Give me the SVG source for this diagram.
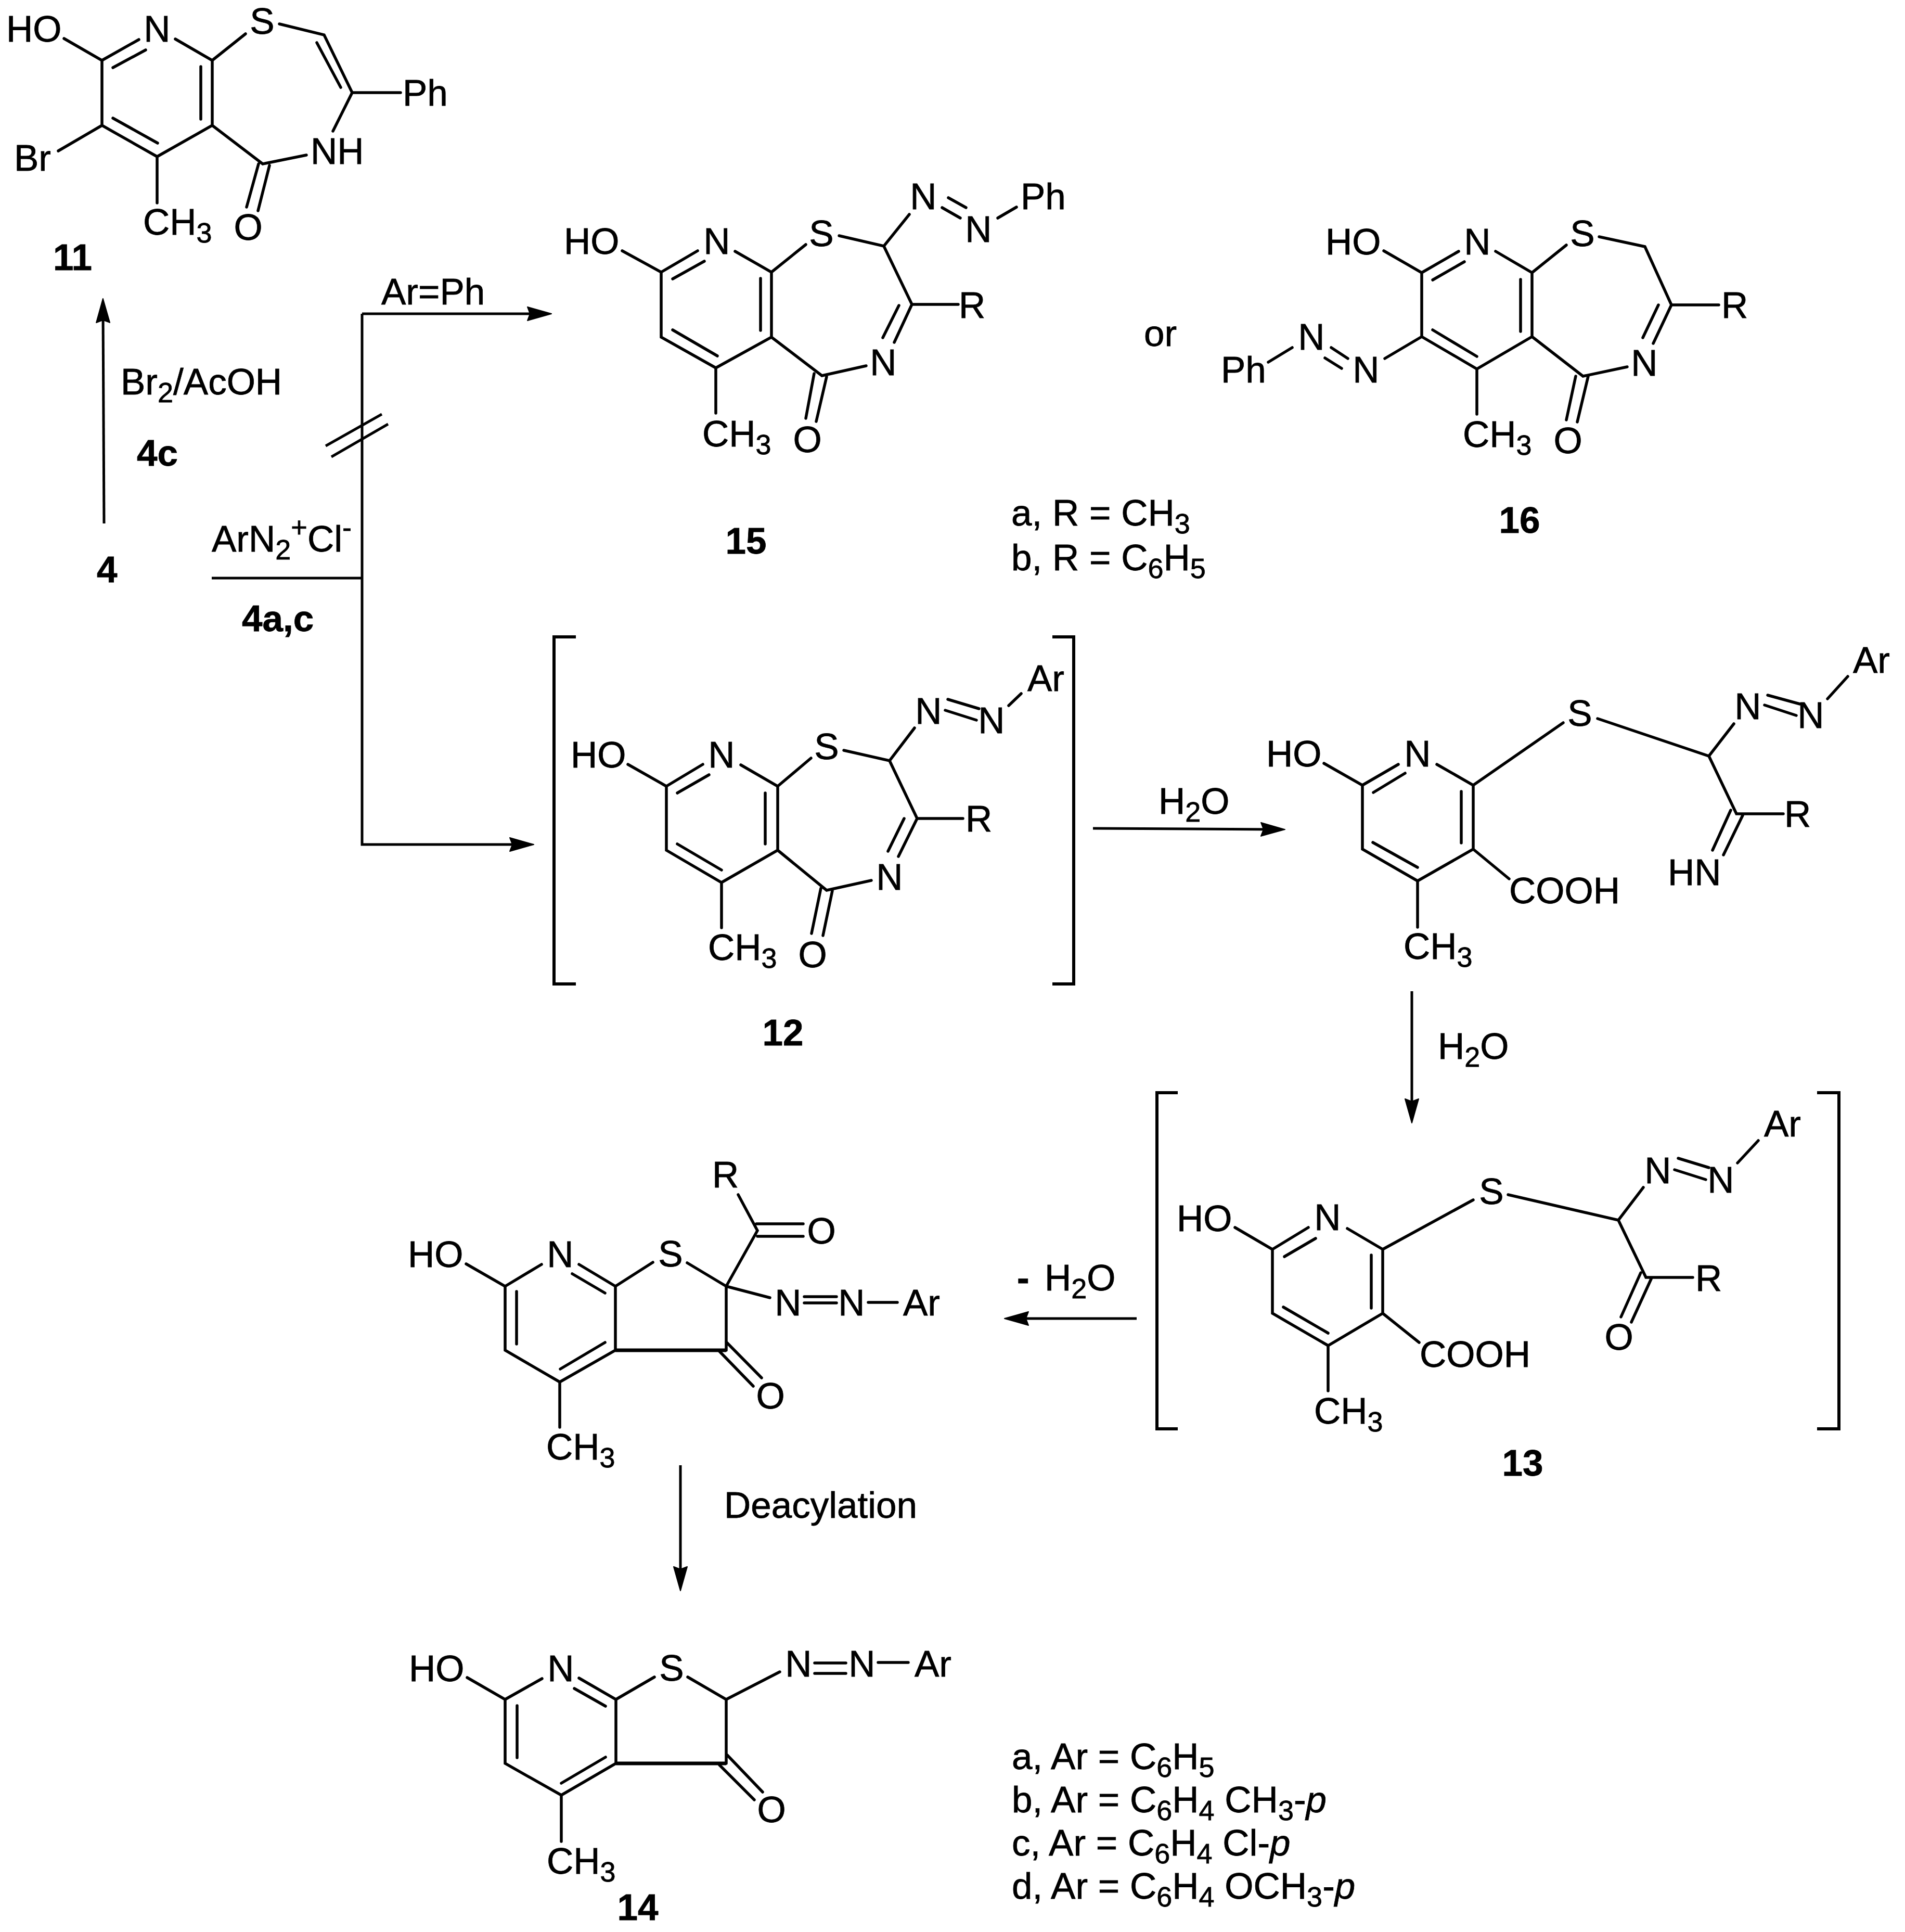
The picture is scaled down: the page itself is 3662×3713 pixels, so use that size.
<svg xmlns="http://www.w3.org/2000/svg" width="3662" height="3713" viewBox="0 0 3662 3713">
<style>
text{font-family:"Liberation Sans",Arial,sans-serif;font-size:71px;fill:#000;stroke:#000;stroke-width:.8}
.m{text-anchor:middle}
.l{font-weight:bold}
.s{font-size:54px}
.i{font-style:italic}
.b{fill:none;stroke:#000;stroke-width:5.5;stroke-linecap:round;stroke-linejoin:miter}
.h{fill:none;stroke:#000;stroke-width:7}
.c{fill:none;stroke:#000;stroke-width:5}
.k{fill:none;stroke:#000;stroke-width:6;stroke-linejoin:miter}
</style>
<defs>
<marker id="ah" markerUnits="userSpaceOnUse" markerWidth="60" markerHeight="40" viewBox="0 0 60 40" refX="23" refY="20" orient="auto"><path d="M1,7 L47,20 L1,33 L6,20 Z" fill="#000" stroke="#000" stroke-width="2" stroke-linejoin="round"/></marker>
</defs>
<rect width="3662" height="3713" fill="#fff"/>
<g id="connectors">
<path class="c" d="M200,1006 L198,598" marker-end="url(#ah)"/>
<path class="c" d="M407,1111 L696,1111"/>
<path class="c" d="M696,603 L696,1623 L1002,1623" marker-end="url(#ah)"/>
<path class="c" d="M696,603 L1036,603" marker-end="url(#ah)"/>
<path class="c" d="M626,857 L734,796 M637,878 L746,815"/>
<path class="c" d="M2101,1592 L2446,1594" marker-end="url(#ah)"/>
<path class="c" d="M2714,1905 L2714,2134" marker-end="url(#ah)"/>
<path class="c" d="M2185,2534 L1955,2534" marker-end="url(#ah)"/>
<path class="c" d="M1308,2816 L1308,3033" marker-end="url(#ah)"/>
</g>
<g id="reagents">
<text x="733" y="585">Ar=Ph</text>
<text x="232" y="758">Br<tspan class="s" dy="15">2</tspan><tspan dy="-15">/AcOH</tspan></text>
<text x="263" y="895" class="l">4c</text>
<text x="186" y="1119" class="l">4</text>
<text x="407" y="1060">ArN<tspan class="s" dy="15">2</tspan><tspan class="s" dy="-43">+</tspan><tspan dy="28">Cl</tspan><tspan class="s" dy="-28">-</tspan></text>
<text x="465" y="1213" class="l">4a,c</text>
<text x="2227" y="1564">H<tspan class="s" dy="15">2</tspan><tspan dy="-15">O</tspan></text>
<text x="2764" y="2035">H<tspan class="s" dy="15">2</tspan><tspan dy="-15">O</tspan></text>
<text x="1955" y="2480" class="l">-</text>
<text x="2008" y="2480">H<tspan class="s" dy="15">2</tspan><tspan dy="-15">O</tspan></text>
<text x="1392" y="2917">Deacylation</text>
<text x="2199" y="665">or</text>
</g>
<g id="node-11">
<path class="b" d="M123,74 L196,116 L196,241 L302,301 L408,241 L408,116 L337,75 M196,116 L267,76 M217,130 L280,96 M217,227 L303,275 M386,128 L386,229 M408,116 L472,65 M408,241 L505,315 L589,298 M537,46 L623,67 L677,178 L640,252 M609,82 L655,168 M677,178 L770,178 M196,241 L112,290 M302,301 L302,390 M497,315 L474,398 M518,318 L496,405"/>
<text x="12" y="80">HO</text>
<text x="302" y="80" class="m">N</text>
<text x="504" y="65" class="m">S</text>
<text x="774" y="203">Ph</text>
<text x="597" y="315">NH</text>
<text x="27" y="328">Br</text>
<text x="275" y="451">CH<tspan class="s" dy="15">3</tspan></text>
<text x="477" y="461" class="m">O</text>
<text x="102" y="519" class="l">11</text>
</g>
<g id="node-15">
<path class="b" d="M1196,482 L1271,523 L1271,648 L1376,707 L1483,648 L1483,523 L1413,483 M1271,523 L1341,482 M1293,536 L1354,502 M1483,523 L1549,470 M1613,453 L1699,473 L1748,412 M1823,380 L1857,399 M1811,399 L1846,419 M1918,419 L1954,398 M1699,473 L1753,585 L1842,585 M1753,585 L1719,658 M1728,587 L1697,649 M1665,703 L1580,722 L1483,648 M1589,724 L1569,810 M1565,718 L1549,804 M1462,535 L1462,635 M1379,684 L1293,634 M1376,707 L1376,794"/>
<text x="1084" y="488">HO</text>
<text x="1378" y="488" class="m">N</text>
<text x="1579" y="473" class="m">S</text>
<text x="1775" y="402" class="m">N</text>
<text x="1881" y="465" class="m">N</text>
<text x="1962" y="402">Ph</text>
<text x="1843" y="611">R</text>
<text x="1698" y="721" class="m">N</text>
<text x="1350" y="858">CH<tspan class="s" dy="15">3</tspan></text>
<text x="1552" y="869" class="m">O</text>
<text x="1434" y="1064" class="l m">15</text>
<text x="1944" y="1010">a, R = CH<tspan class="s" dy="15">3</tspan></text>
<text x="1944" y="1096">b, R = C<tspan class="s" dy="15">6</tspan><tspan dy="-15">H</tspan><tspan class="s" dy="15">5</tspan></text>
</g>
<g id="node-16">
<path class="b" d="M2660,482 L2733,524 L2733,647 L2839,709 L2945,647 L2945,524 L2875,483 M2733,524 L2804,483 M2754,538 L2815,503 M2945,524 L3011,471 M3074,455 L3162,474 L3213,586 L3304,586 M3213,586 L3178,660 M3188,586 L3158,649 M3128,705 L3043,723 L2945,647 M3053,723 L3032,811 M3029,723 L3011,807 M2923,537 L2923,637 M2839,685 L2754,634 M2839,709 L2839,796 M2733,647 L2662,689 M2559,668 L2591,689 M2547,688 L2579,708 M2484,668 L2438,696"/>
<text x="2548" y="489">HO</text>
<text x="2840" y="489" class="m">N</text>
<text x="3042" y="473" class="m">S</text>
<text x="2626" y="735" class="m">N</text>
<text x="2521" y="672" class="m">N</text>
<text x="2347" y="735">Ph</text>
<text x="3309" y="611">R</text>
<text x="3161" y="722" class="m">N</text>
<text x="2812" y="859">CH<tspan class="s" dy="15">3</tspan></text>
<text x="3014" y="871" class="m">O</text>
<text x="2921" y="1024" class="l m">16</text>
</g>
<g id="node-12">
<path class="k" d="M1107,1224 L1065,1224 L1065,1891 L1107,1891 M2023,1224 L2064,1224 L2064,1891 L2023,1891"/>
<path class="b" d="M1207,1469 L1281,1511 L1281,1634 L1387,1696 L1495,1634 L1495,1511 L1424,1470 M1281,1511 L1351,1469 M1302,1524 L1363,1489 M1495,1511 L1559,1457 M1622,1442 L1710,1462 L1758,1399 M1822,1344 L1882,1362 M1817,1365 L1877,1384 M1939,1356 L1963,1333 M1710,1462 L1763,1573 L1851,1573 M1763,1573 L1727,1646 M1738,1573 L1707,1636 M1675,1692 L1589,1711 L1495,1634 M1600,1712 L1582,1798 M1578,1707 L1560,1794 M1471,1524 L1471,1622 M1387,1672 L1302,1622 M1387,1696 L1387,1783"/>
<text x="1097" y="1475">HO</text>
<text x="1387" y="1475" class="m">N</text>
<text x="1589" y="1459" class="m">S</text>
<text x="1785" y="1391" class="m">N</text>
<text x="1906" y="1409" class="m">N</text>
<text x="1975" y="1328">Ar</text>
<text x="1856" y="1598">R</text>
<text x="1710" y="1710" class="m">N</text>
<text x="1361" y="1845">CH<tspan class="s" dy="15">3</tspan></text>
<text x="1562" y="1859" class="m">O</text>
<text x="1505" y="2009" class="l m">12</text>
</g>
<g id="node-imine">
<path class="b" d="M2545,1467 L2619,1509 L2619,1632 L2725,1693 L2832,1632 L2832,1509 L2762,1469 M2619,1509 L2688,1469 M2640,1523 L2701,1486 M2832,1509 L3005,1389 M3071,1381 L3285,1453 L3333,1391 M3398,1336 L3460,1353 M3392,1355 L3453,1375 M3513,1343 L3552,1300 M3285,1453 L3338,1564 L3428,1564 M3350,1567 L3313,1643 M3327,1557 L3292,1634 M2809,1521 L2809,1620 M2725,1667 L2639,1619 M2832,1632 L2901,1689 M2725,1693 L2725,1782"/>
<text x="2434" y="1473">HO</text>
<text x="2725" y="1473" class="m">N</text>
<text x="3037" y="1395" class="m">S</text>
<text x="2901" y="1736">COOH</text>
<text x="2698" y="1843">CH<tspan class="s" dy="15">3</tspan></text>
<text x="3430" y="1589">R</text>
<text x="3206" y="1701">HN</text>
<text x="3360" y="1382" class="m">N</text>
<text x="3481" y="1399" class="m">N</text>
<text x="3562" y="1293">Ar</text>
</g>
<g id="node-13">
<path class="k" d="M2264,2100 L2224,2100 L2224,2746 L2264,2746 M3493,2100 L3535,2100 L3535,2746 L3493,2746"/>
<path class="b" d="M2374,2359 L2446,2401 L2446,2524 L2553,2586 L2658,2524 L2658,2401 L2590,2361 M2446,2401 L2515,2359 M2469,2415 L2529,2380 M2658,2401 L2832,2306 M2899,2296 L3111,2345 L3159,2282 M3226,2226 L3285,2244 M3219,2248 L3279,2267 M3340,2235 L3380,2192 M3111,2345 L3164,2455 L3254,2455 M3174,2458 L3136,2541 M3154,2446 L3116,2531 M2636,2412 L2636,2514 M2553,2562 L2467,2512 M2658,2524 L2728,2580 M2553,2586 L2553,2673"/>
<text x="2262" y="2366">HO</text>
<text x="2552" y="2364" class="m">N</text>
<text x="2867" y="2314" class="m">S</text>
<text x="2729" y="2627">COOH</text>
<text x="2526" y="2736">CH<tspan class="s" dy="15">3</tspan></text>
<text x="3259" y="2481">R</text>
<text x="3112" y="2594" class="m">O</text>
<text x="3187" y="2274" class="m">N</text>
<text x="3308" y="2292" class="m">N</text>
<text x="3391" y="2184">Ar</text>
<text x="2927" y="2836" class="l m">13</text>
</g>
<g id="node-thienone">
<path class="b" d="M896,2429 L971,2472 L971,2595 L1076,2656 L1183,2595 L1183,2472 L1113,2430 M971,2472 L1041,2430 M1100,2448 L1163,2485 M1183,2472 L1255,2426 M1321,2427 L1396,2472 L1396,2595 M1396,2472 L1480,2494 M1396,2472 L1456,2365 L1419,2296 M1454,2352 L1544,2352 M1456,2376 L1544,2376 M1396,2579 L1464,2648 M1383,2597 L1448,2664 M1163,2580 L1077,2631 M993,2482 L993,2583 M1076,2656 L1076,2743 M1546,2492 L1608,2492 M1546,2504 L1608,2504 M1669,2503 L1725,2503"/>
<path class="h" d="M1183,2595 L1396,2595"/>
<text x="784" y="2435">HO</text>
<text x="1077" y="2435" class="m">N</text>
<text x="1289" y="2434" class="m">S</text>
<text x="1050" y="2805">CH<tspan class="s" dy="15">3</tspan></text>
<text x="1481" y="2707" class="m">O</text>
<text x="1369" y="2282">R</text>
<text x="1579" y="2390" class="m">O</text>
<text x="1515" y="2528" class="m">N</text>
<text x="1637" y="2528" class="m">N</text>
<text x="1736" y="2528">Ar</text>
</g>
<g id="node-14">
<path class="b" d="M898,3224 L971,3266 L971,3389 L1079,3450 L1184,3389 L1184,3266 L1113,3225 M971,3266 L1042,3226 M1104,3245 L1164,3279 M1184,3266 L1258,3223 M1322,3223 L1396,3266 L1396,3389 M1396,3266 L1499,3213 M1398,3373 L1466,3444 M1383,3392 L1450,3459 M1164,3377 L1079,3427 M994,3278 L994,3378 M1079,3450 L1079,3539 M1566,3196 L1626,3196 M1566,3216 L1626,3216 M1688,3195 L1746,3195"/>
<path class="h" d="M1184,3389 L1396,3389"/>
<text x="786" y="3231">HO</text>
<text x="1078" y="3231" class="m">N</text>
<text x="1291" y="3230" class="m">S</text>
<text x="1535" y="3222" class="m">N</text>
<text x="1657" y="3222" class="m">N</text>
<text x="1758" y="3222">Ar</text>
<text x="1051" y="3601">CH<tspan class="s" dy="15">3</tspan></text>
<text x="1483" y="3502" class="m">O</text>
<text x="1226" y="3690" class="l m">14</text>
<text x="1945" y="3400">a, Ar = C<tspan class="s" dy="15">6</tspan><tspan dy="-15">H</tspan><tspan class="s" dy="15">5</tspan></text>
<text x="1945" y="3483">b, Ar = C<tspan class="s" dy="15">6</tspan><tspan dy="-15">H</tspan><tspan class="s" dy="15">4</tspan><tspan dy="-15"> CH</tspan><tspan class="s" dy="15">3</tspan><tspan dy="-15">-</tspan><tspan class="i">p</tspan></text>
<text x="1945" y="3566">c, Ar = C<tspan class="s" dy="15">6</tspan><tspan dy="-15">H</tspan><tspan class="s" dy="15">4</tspan><tspan dy="-15"> Cl-</tspan><tspan class="i">p</tspan></text>
<text x="1945" y="3649">d, Ar = C<tspan class="s" dy="15">6</tspan><tspan dy="-15">H</tspan><tspan class="s" dy="15">4</tspan><tspan dy="-15"> OCH</tspan><tspan class="s" dy="15">3</tspan><tspan dy="-15">-</tspan><tspan class="i">p</tspan></text>
</g>
</svg>
